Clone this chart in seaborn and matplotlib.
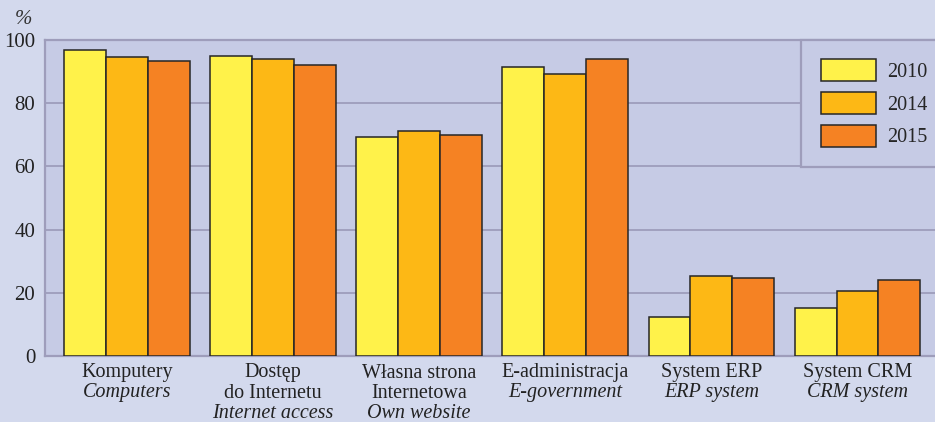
import pandas as pd
import seaborn as sns
import matplotlib.pyplot as plt
from matplotlib.transforms import blended_transform_factory

# values (%)
years = ["2010", "2014", "2015"]
categories = ["Komputery", "Dostęp do Internetu", "Własna strona Internetowa",
              "E-administracja", "System ERP", "System CRM"]
v2010 = [96.7, 94.9, 69.3, 91.6, 12.5, 15.3]
v2014 = [94.5, 94.0, 71.2, 89.1, 25.2, 20.5]
v2015 = [93.4, 92.2, 69.8, 94.1, 24.6, 24.0]

pl_lines = [["Komputery"], ["Dostęp", "do Internetu"], ["Własna strona", "Internetowa"],
            ["E-administracja"], ["System ERP"], ["System CRM"]]
en_lines = ["Computers", "Internet access", "Own website",
            "E-government", "ERP system", "CRM system"]

colors = ["#fff24a", "#fdb815", "#f58223"]
fig_bg = "#d3d9ed"
ax_bg = "#c6cbe5"
line_col = "#9e9dbb"

df = pd.DataFrame({
    "cat": categories * 3,
    "year": [y for y in years for _ in categories],
    "val": v2010 + v2014 + v2015,
})

sns.set_style("white")
plt.rcParams["font.family"] = ["Liberation Serif", "DejaVu Serif"]

fig = plt.figure(figsize=(9.35, 4.22), dpi=100, facecolor=fig_bg)
ax = fig.add_axes([45 / 935, 66 / 422, 1 - 45 / 935, 316 / 422])
ax.set_facecolor(ax_bg)

sns.barplot(data=df, x="cat", y="val", hue="year", palette=colors,
            width=0.86, gap=0, edgecolor="#262626", linewidth=1.1,
            saturation=1, ax=ax, zorder=3)

ax.set_ylim(0, 100)
ax.set_xlim(-0.56, 5.53)
ax.set_yticks([0, 20, 40, 60, 80, 100])
ax.yaxis.grid(True, color=line_col, linewidth=1.3, zorder=0)
ax.set_axisbelow(True)
ax.tick_params(axis="y", length=0, pad=7, labelsize=15, colors="#222222")
ax.set_xticks([])
ax.set_xlabel("")
ax.set_ylabel("")
for s in ["top", "left", "bottom"]:
    ax.spines[s].set_visible(True)
    ax.spines[s].set_color(line_col)
    ax.spines[s].set_linewidth(1.6)
ax.spines["right"].set_visible(False)

fig.text(23 / 935, 1 - 19 / 422, "%", fontsize=15, style="italic",
         ha="center", va="center", color="#333333")

# two-language category labels below the axis
tr = blended_transform_factory(ax.transData, fig.transFigure)
line_y = [1 - 373 / 422, 1 - 393 / 422, 1 - 413 / 422]
for i, (pl, en) in enumerate(zip(pl_lines, en_lines)):
    for j, txt in enumerate(pl):
        ax.text(i, line_y[j], txt, transform=tr, ha="center", va="center",
                fontsize=14.5, color="#222222")
    ax.text(i, line_y[len(pl)], en, transform=tr, ha="center", va="center",
            fontsize=14.5, style="italic", color="#222222")

handles, labels = ax.get_legend_handles_labels()
leg = ax.legend(handles, labels, loc="upper right", bbox_to_anchor=(1.013, 1.0),
                borderaxespad=0, frameon=True, fancybox=False, fontsize=14.5,
                handlelength=2.75, handleheight=1.3, handletextpad=0.55,
                labelspacing=0.5, borderpad=0.95)
leg.get_frame().set_facecolor(ax_bg)
leg.get_frame().set_edgecolor(line_col)
leg.get_frame().set_linewidth(1.6)
leg.get_frame().set_alpha(1)

fig.savefig("out.png", dpi=100, facecolor=fig_bg)
